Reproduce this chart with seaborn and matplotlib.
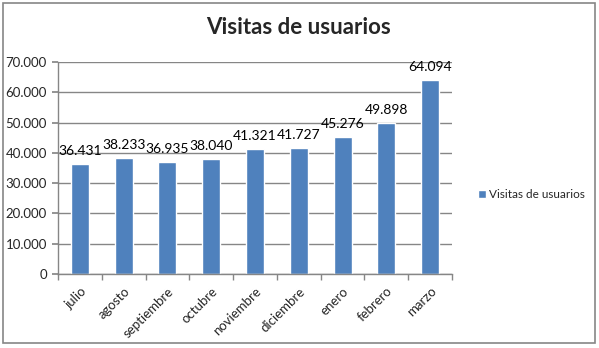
import matplotlib
matplotlib.use("Agg")
import matplotlib.pyplot as plt
import seaborn as sns
import pandas as pd
from matplotlib.patches import Rectangle
from matplotlib.ticker import FuncFormatter

months = ["julio", "agosto", "septiembre", "octubre", "noviembre", "diciembre", "enero", "febrero", "marzo"]
visits = [36431, 38233, 36935, 38040, 41321, 41727, 45276, 49898, 64094]
series_name = "Visitas de usuarios"
y_ticks = [0, 10000, 20000, 30000, 40000, 50000, 60000, 70000]

sns.set_theme(style="white")
plt.rcParams["font.family"] = ["Lato", "DejaVu Sans"]

df = pd.DataFrame({"mes": months, "visitas": visits, "serie": series_name})

W, H = 599, 348
fig = plt.figure(figsize=(W / 100, H / 100), dpi=100)
ax = fig.add_axes([58 / W, (H - 274) / H, (452 - 58) / W, (274 - 62) / H])

bar_color = "#4F81BD"
sns.barplot(data=df, x="mes", y="visitas", color=bar_color, width=0.41, ax=ax,
            label=series_name, saturation=1)

fmt = lambda v: f"{int(v):,}".replace(",", ".")
for i, v in enumerate(visits):
    ax.text(i, v + 2300, fmt(v), ha="center", va="bottom", fontsize=10, color="black")

ax.set_ylim(0, 70000)
ax.set_yticks(y_ticks)
ax.yaxis.set_major_formatter(FuncFormatter(lambda v, p: fmt(v)))
ax.set_xlim(-0.5, len(months) - 0.5)
ax.grid(axis="y", color="#868686", linewidth=1)
ax.set_axisbelow(True)
for s in ["top", "right"]:
    ax.spines[s].set_visible(False)
for s in ["left", "bottom"]:
    ax.spines[s].set_color("#868686")
    ax.spines[s].set_linewidth(1)
ax.set_xlabel("")
ax.set_ylabel("")

ax.tick_params(axis="y", left=True, length=4, color="#868686", labelsize=9.5, pad=4)
ax.set_xticks(range(len(months)))
ax.set_xticklabels(months, rotation=45, ha="right", rotation_mode="anchor", fontsize=9.5)
ax.tick_params(axis="x", bottom=False, labelsize=9.5, pad=2)
# category boundary ticks
ax.set_xticks([i - 0.5 for i in range(len(months) + 1)], minor=True)
ax.tick_params(axis="x", which="minor", bottom=True, length=4, color="#868686")

ax.set_title("")
fig.text(299 / W, 1 - 28 / H, "Visitas de usuarios", ha="center", va="center",
         fontsize=16, fontweight="bold")

leg = ax.legend(loc="center left", bbox_to_anchor=(467 / W, 1 - 195 / H),
                bbox_transform=fig.transFigure, frameon=False, fontsize=8.5,
                handlelength=0.7, handleheight=0.7, handletextpad=0.3)

fig.patches.append(Rectangle((3 / W, 5 / H), 592 / W, 340 / H, transform=fig.transFigure,
                             fill=False, edgecolor="#868686", linewidth=1.2))

fig.savefig("out.png", dpi=100)
